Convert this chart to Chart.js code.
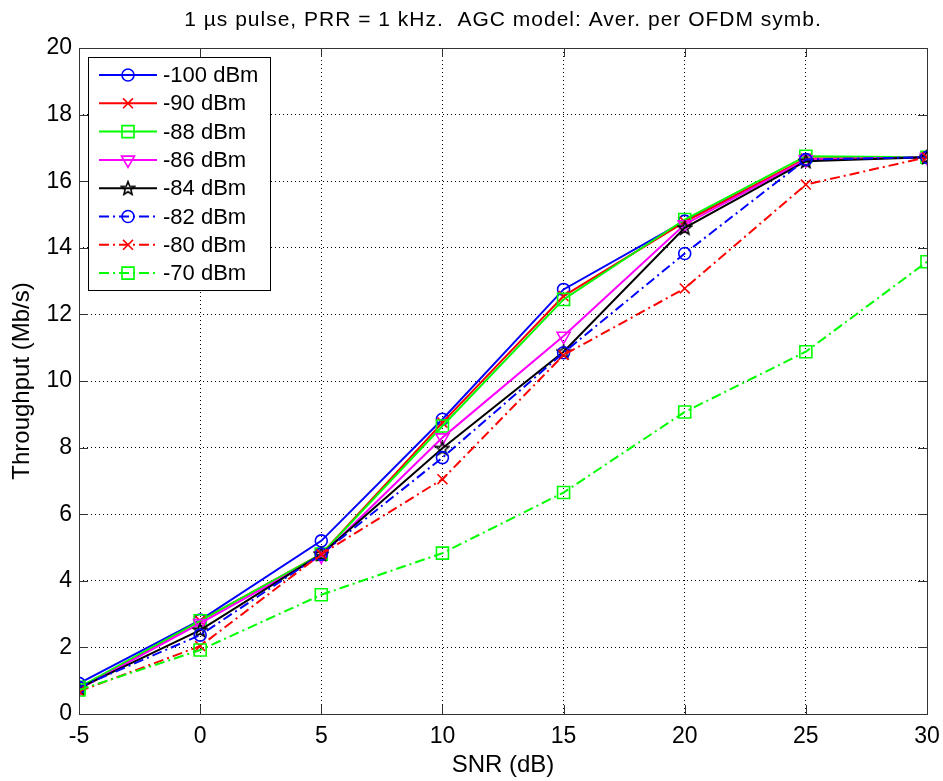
<!DOCTYPE html>
<html>
<head>
<meta charset="utf-8">
<script src="https://cdn.jsdelivr.net/npm/chart.js@4.4.1/dist/chart.umd.min.js"></script>
<style>
  html, body { margin: 0; padding: 0; background: #fff; }
  #wrap { width: 943px; height: 781px; }
</style>
</head>
<body>
<div id="wrap"><canvas id="thr"></canvas></div>
<script>
// SNR points (dB)
const snr = [-5, 0, 5, 10, 15, 20, 25, 30];

// throughput in Mb/s, one array per interferer level
const p100 = [0.92, 2.82, 5.2, 8.85, 12.75, 14.8, 16.65, 16.72];
const p90  = [0.75, 2.8, 4.8, 8.75, 12.55, 14.78, 16.68, 16.72];
const p88  = [0.8, 2.8, 4.8, 8.65, 12.45, 14.85, 16.75, 16.72];
const p86  = [0.75, 2.72, 4.75, 8.3, 11.35, 14.7, 16.65, 16.72];
const p84  = [0.78, 2.52, 4.8, 7.98, 10.88, 14.6, 16.6, 16.72];
const p82  = [0.8, 2.37, 4.8, 7.7, 10.85, 13.83, 16.65, 16.72];
const p80  = [0.68, 2.04, 4.8, 7.05, 10.78, 12.78, 15.9, 16.72];
const p70  = [0.72, 1.92, 3.58, 4.83, 6.65, 9.07, 10.88, 13.58];

const seriesLabels = ['-100 dBm', '-90 dBm', '-88 dBm', '-86 dBm', '-84 dBm', '-82 dBm', '-80 dBm', '-70 dBm'];
const xTicks = [-5, 0, 5, 10, 15, 20, 25, 30];
const yTicks = [0, 2, 4, 6, 8, 10, 12, 14, 16, 18, 20];

const titleText = '1 \u00b5s pulse, PRR = 1 kHz.  AGC model: Aver. per OFDM symb.';
const FONT = 'Arial, "Liberation Sans", Helvetica, sans-serif';

// matlab style pentagram marker, drawn once on a small canvas
function makePentagram(color) {
    const c = document.createElement('canvas');
    c.width = 16; c.height = 16;
    const g = c.getContext('2d');
    g.beginPath();
    for (let i = 0; i < 10; i++) {
        const r = i % 2 === 0 ? 7 : 3;
        const a = -Math.PI / 2 + i * Math.PI / 5;
        const px = 8 + r * Math.cos(a), py = 8.5 + r * Math.sin(a);
        if (i === 0) g.moveTo(px, py); else g.lineTo(px, py);
    }
    g.closePath();
    g.lineWidth = 1.6;
    g.strokeStyle = color;
    g.stroke();
    return c;
}
const star = makePentagram('#000000');

const dashDot = [10, 4, 2, 4];
const styles = [
    { color: '#0000ff', point: 'circle', radius: 6, rot: 0, dash: [] },
    { color: '#ff0000', point: 'crossRot', radius: 7, rot: 0, dash: [] },
    { color: '#00ff00', point: 'rect', radius: 8.5, rot: 0, dash: [] },
    { color: '#ff00ff', point: 'triangle', radius: 7.5, rot: 180, dash: [] },
    { color: '#000000', point: star, radius: 7, rot: 0, dash: [] },
    { color: '#0000ff', point: 'circle', radius: 6, rot: 0, dash: dashDot },
    { color: '#ff0000', point: 'crossRot', radius: 7, rot: 0, dash: dashDot },
    { color: '#00ff00', point: 'rect', radius: 8.5, rot: 0, dash: dashDot }
];
const values = [p100, p90, p88, p86, p84, p82, p80, p70];

const datasets = values.map((v, i) => ({
    label: seriesLabels[i],
    data: v.map((y, k) => ({ x: snr[k], y: y })),
    borderColor: styles[i].color,
    borderWidth: 2,
    borderDash: styles[i].dash,
    pointStyle: styles[i].point,
    pointRadius: styles[i].radius,
    pointRotation: styles[i].rot,
    pointBorderColor: styles[i].color,
    pointBackgroundColor: 'rgba(0,0,0,0)',
    pointBorderWidth: 1.6,
    tension: 0,
    fill: false,
    order: values.length - i
}));

// box, inward ticks, title and the in-axes legend
const matlabLook = {
    id: 'matlabLook',
    afterDraw(chart) {
        const ctx = chart.ctx;
        const a = chart.chartArea;
        const xs = chart.scales.x, ys = chart.scales.y;
        ctx.save();
        ctx.strokeStyle = '#333333';
        ctx.lineWidth = 1;
        ctx.setLineDash([]);
        ctx.strokeRect(a.left + 0.5, a.top + 0.5, a.right - a.left, a.bottom - a.top);
        ctx.beginPath();
        xTicks.forEach(t => {
            const px = Math.round(xs.getPixelForValue(t)) + 0.5;
            ctx.moveTo(px, a.bottom); ctx.lineTo(px, a.bottom - 9);
            ctx.moveTo(px, a.top); ctx.lineTo(px, a.top + 9);
        });
        yTicks.forEach(t => {
            const py = Math.round(ys.getPixelForValue(t)) + 0.5;
            ctx.moveTo(a.left, py); ctx.lineTo(a.left + 9, py);
            ctx.moveTo(a.right, py); ctx.lineTo(a.right - 9, py);
        });
        ctx.stroke();

        // title
        ctx.fillStyle = '#000';
        ctx.font = '21px ' + FONT;
        ctx.letterSpacing = '1px';
        ctx.textAlign = 'center';
        ctx.textBaseline = 'middle';
        ctx.fillText(titleText, (a.left + a.right) / 2, 20);
        ctx.letterSpacing = '0px';

        // legend
        const bx = 88, by = 57, bw = 182, bh = 233;
        ctx.fillStyle = '#fff';
        ctx.fillRect(bx, by, bw, bh);
        ctx.strokeStyle = '#000';
        ctx.strokeRect(bx + 0.5, by + 0.5, bw, bh);
        ctx.font = '22px ' + FONT;
        ctx.textAlign = 'left';
        seriesLabels.forEach((lab, i) => {
            const s = styles[i];
            const ry = 75 + i * 28.3;
            ctx.strokeStyle = s.color;
            ctx.lineWidth = 2;
            ctx.setLineDash(s.dash);
            ctx.beginPath();
            ctx.moveTo(99, ry); ctx.lineTo(157, ry);
            ctx.stroke();
            ctx.setLineDash([]);
            ctx.lineWidth = 1.6;
            ctx.strokeStyle = s.color;
            ctx.fillStyle = 'rgba(0,0,0,0)';
            Chart.helpers.drawPoint(ctx, { pointStyle: s.point, radius: s.radius, rotation: s.rot, borderWidth: 1.6 }, 128, ry);
            ctx.fillStyle = '#000';
            ctx.fillText(lab, 163, ry + 1);
        });
        ctx.restore();
    }
};

new Chart(document.getElementById('thr').getContext('2d'), {
    type: 'line',
    data: { datasets: datasets },
    options: {
        responsive: true,
        maintainAspectRatio: false,
        animation: false,
        layout: { padding: { top: 48, right: 16, left: 0, bottom: 0 } },
        plugins: {
            legend: { display: false },
            title: { display: false },
            tooltip: { enabled: false }
        },
        scales: {
            x: {
                type: 'linear',
                min: -5,
                max: 30,
                afterBuildTicks: s => { s.ticks = xTicks.map(v => ({ value: v })); },
                afterFit: s => { s.height = 67; s.paddingLeft = 0; s.paddingRight = 0; },
                ticks: { color: '#000', font: { size: 23, family: FONT }, padding: 9, maxRotation: 0 },
                grid: { color: '#000', lineWidth: 1, drawTicks: false },
                border: { display: false, dash: [1, 3] },
                title: { display: true, text: 'SNR (dB)', color: '#000', font: { size: 24, family: FONT }, padding: { top: 0, bottom: 1 } }
            },
            y: {
                min: 0,
                max: 20,
                afterBuildTicks: s => { s.ticks = yTicks.map(v => ({ value: v })); },
                afterFit: s => { s.width = 79; s.paddingTop = 0; s.paddingBottom = 0; },
                ticks: { color: '#000', font: { size: 23, family: FONT }, padding: 7 },
                grid: { color: '#000', lineWidth: 1, drawTicks: false },
                border: { display: false, dash: [1, 3] },
                title: { display: true, text: 'Throughput (Mb/s)', color: '#000', font: { size: 24, family: FONT }, padding: { top: 8, bottom: 0 } }
            }
        }
    },
    plugins: [matlabLook]
});
</script>
</body>
</html>
